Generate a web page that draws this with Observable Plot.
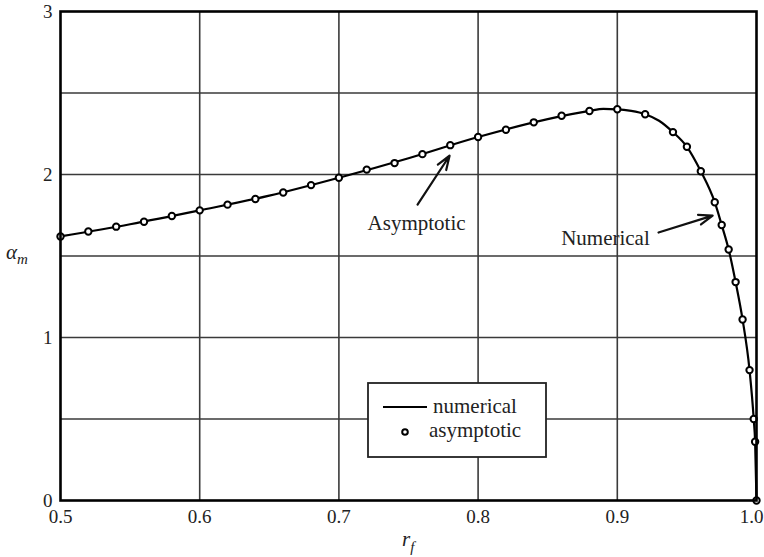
<!DOCTYPE html>
<html>
<head>
<meta charset="utf-8">
<script src="https://cdn.jsdelivr.net/npm/d3@7"></script>
<script src="https://cdn.jsdelivr.net/npm/@observablehq/plot@0.6"></script>
<style>
  body { margin: 0; background: #fff; }
  #chart { width: 764px; height: 557px; }
</style>
</head>
<body>
<div id="chart"></div>
<script>
// Fibre ratio r_f and the maximum alpha from the asymptotic formula (markers)
const rf = [0.50, 0.52, 0.54, 0.56, 0.58, 0.60, 0.62, 0.64, 0.66, 0.68,
            0.70, 0.72, 0.74, 0.76, 0.78, 0.80, 0.82, 0.84, 0.86, 0.88,
            0.90, 0.92, 0.94, 0.95, 0.96, 0.97, 0.975, 0.98, 0.985, 0.99,
            0.995, 0.998, 0.999, 1.0];
const alphaAsym = [1.62, 1.65, 1.68, 1.71, 1.745, 1.78, 1.815, 1.85, 1.89, 1.935,
                   1.98, 2.03, 2.07, 2.125, 2.18, 2.23, 2.275, 2.32, 2.36, 2.39,
                   2.40, 2.37, 2.26, 2.17, 2.02, 1.83, 1.69, 1.54, 1.34, 1.11,
                   0.80, 0.50, 0.36, 0.0];

// Numerical solution (solid curve)
const rfNum = [0.50, 0.55, 0.60, 0.65, 0.70, 0.75, 0.80, 0.85, 0.88, 0.89,
               0.90, 0.91, 0.92, 0.93, 0.94, 0.95, 0.96, 0.97, 0.975, 0.98,
               0.985, 0.99, 0.995, 0.998, 0.999, 1.0];
const alphaNum = [1.62, 1.695, 1.78, 1.87, 1.98, 2.10, 2.23, 2.34, 2.39, 2.402,
                  2.40, 2.39, 2.37, 2.33, 2.26, 2.17, 2.02, 1.83, 1.69, 1.54,
                  1.34, 1.11, 0.80, 0.50, 0.36, 0.0];

// Axis ticks and grid
const xTicks = [0.5, 0.6, 0.7, 0.8, 0.9];
const xTickLast = [1.0];
const yTicks = [0, 1, 2, 3];
const xGrid = [0.6, 0.7, 0.8, 0.9];
const yGrid = [0.5, 1, 1.5, 2, 2.5];

// Callouts
const noteText = ["Asymptotic", "Numerical"];
const noteX = [0.7558, 0.8915];
const noteY = [1.70, 1.61];
const arrowX1 = [0.7565, 0.9296];
const arrowY1 = [1.815, 1.644];
const arrowX2 = [0.7795, 0.9685];
const arrowY2 = [2.115, 1.748];

const asym = rf.map((x, i) => ({x, y: alphaAsym[i]}));
const num = rfNum.map((x, i) => ({x, y: alphaNum[i]}));
const notes = noteText.map((t, i) => ({t, x: noteX[i], y: noteY[i]}));
const arrows = arrowX1.map((x1, i) => ({x1, y1: arrowY1[i], x2: arrowX2[i], y2: arrowY2[i]}));

const FONT = "'Liberation Serif', 'Times New Roman', serif";
const fmt1 = d3.format(".1f");

const chart = Plot.plot({
  width: 764,
  height: 557,
  marginLeft: 60,
  marginRight: 8,
  marginTop: 11,
  marginBottom: 57,
  style: {fontFamily: FONT, background: "#fff", color: "#222"},
  x: {domain: [0.5, 1.0]},
  y: {domain: [0, 3]},
  marks: [
    Plot.ruleX(xGrid, {stroke: "#3a3a3a", strokeWidth: 1.6}),
    Plot.ruleY(yGrid, {stroke: "#3a3a3a", strokeWidth: 1.6}),
    Plot.axisX(xTicks, {tickSize: 0, tickPadding: 9, fontSize: 19, tickFormat: fmt1, label: null}),
    Plot.axisX(xTickLast, {tickSize: 0, tickPadding: 9, fontSize: 19, tickFormat: fmt1, label: null, dx: -5}),
    Plot.axisY(yTicks, {tickSize: 0, tickPadding: 8, fontSize: 19, tickFormat: d3.format("d"), label: null}),
    Plot.line(num, {x: "x", y: "y", stroke: "#000", strokeWidth: 2.2, curve: "monotone-x"}),
    Plot.dot(asym, {x: "x", y: "y", r: 3.2, fill: "#fff", stroke: "#000", strokeWidth: 2}),
    Plot.arrow(arrows, {x1: "x1", y1: "y1", x2: "x2", y2: "y2", stroke: "#111", strokeWidth: 2.2, headLength: 10, headAngle: 40}),
    Plot.text(notes, {x: "x", y: "y", text: "t", fontSize: 21, fill: "#222"}),
    Plot.frame({stroke: "#000", strokeWidth: 2.6})
  ]
});

document.getElementById("chart").appendChild(chart);

// Axis titles with italic symbols and subscripts
const svg = d3.select(chart);
const xt = svg.append("text")
  .attr("x", 402).attr("y", 546).attr("text-anchor", "start")
  .attr("font-family", FONT).attr("font-size", 21)
  .attr("font-style", "italic").attr("fill", "#222");
xt.append("tspan").text("r");
xt.append("tspan").attr("dy", 6).attr("font-size", 15).text("f");

const yt = svg.append("text")
  .attr("x", 6).attr("y", 259).attr("text-anchor", "start")
  .attr("font-family", FONT).attr("font-size", 21)
  .attr("font-style", "italic").attr("fill", "#222");
yt.append("tspan").text("α");
yt.append("tspan").attr("dy", 5).attr("font-size", 15).text("m");

// Legend box
const lg = svg.append("g").attr("font-family", FONT).attr("font-size", 21)
  .attr("fill", "#222").attr("text-anchor", "start");
lg.append("rect").attr("x", 368).attr("y", 383).attr("width", 178).attr("height", 74)
  .attr("fill", "#fff").attr("stroke", "#222").attr("stroke-width", 1.8);
lg.append("line").attr("x1", 383).attr("x2", 427).attr("y1", 407).attr("y2", 407)
  .attr("stroke", "#000").attr("stroke-width", 2);
lg.append("text").attr("x", 433).attr("y", 406).attr("dy", "0.32em").text("numerical");
lg.append("circle").attr("cx", 405).attr("cy", 432).attr("r", 2.8)
  .attr("fill", "#fff").attr("stroke", "#000").attr("stroke-width", 2);
lg.append("text").attr("x", 429).attr("y", 430).attr("dy", "0.32em").text("asymptotic");
</script>
</body>
</html>
